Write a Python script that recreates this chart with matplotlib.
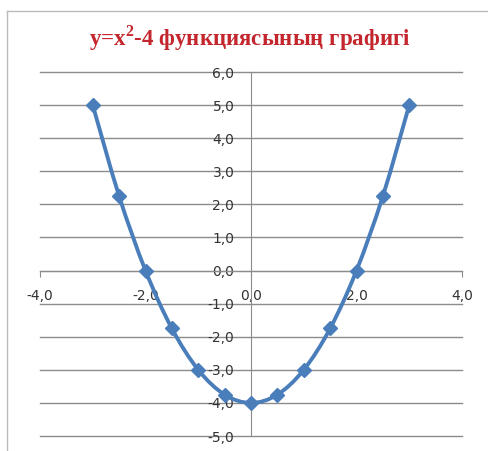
import numpy as np
from matplotlib import pyplot as plt
from matplotlib.path import Path
from matplotlib.patches import PathPatch
from matplotlib.ticker import FuncFormatter
from matplotlib.lines import Line2D

## Data ##
x_vals = [-3, -2.5, -2, -1.5, -1, -0.5, 0, 0.5, 1, 1.5, 2, 2.5, 3]
y_vals = [5, 2.25, 0, -1.75, -3, -3.75, -4, -3.75, -3, -1.75, 0, 2.25, 5]
x_ticks = [-4, -2, 0, 2, 4]
y_ticks = list(range(-5, 7))
title = "y=x$^{\\mathrm{2}}$-4 функциясының графигі"

line_color = '#4A7EBB'
grid_color = '#8C8C8C'

plt.rcParams['mathtext.fontset'] = 'custom'
plt.rcParams['mathtext.rm'] = 'Liberation Serif:bold'

fig = plt.figure(figsize=(4.89, 4.51), dpi=100)
ax = fig.add_axes([40 / 489, 1 - 436 / 451, 422 / 489, 364 / 451])
ax.set_xlim(-4, 4)
ax.set_ylim(-5, 6)

# axes crossing at zero, like the spreadsheet chart
for side in ['top', 'right']:
    ax.spines[side].set_visible(False)
ax.spines['left'].set_position(('data', 0))
ax.spines['bottom'].set_position(('data', 0))
ax.spines['left'].set_color(grid_color)
ax.spines['bottom'].set_color(grid_color)

ax.set_xticks(x_ticks)
ax.set_yticks(y_ticks)
fmt = FuncFormatter(lambda v, p: f"{v:.1f}".replace('.', ','))
ax.xaxis.set_major_formatter(fmt)
ax.yaxis.set_major_formatter(fmt)
ax.tick_params(axis='x', direction='out', length=4, color=grid_color, pad=9,
               labelsize=10, labelcolor='#333333')
ax.tick_params(axis='y', length=0, pad=12, labelsize=10, labelcolor='#333333')
ax.yaxis.grid(True, color=grid_color, linewidth=1)
for gl in ax.get_ygridlines():
    gl.set_clip_on(False)
ax.set_axisbelow(True)

## Smooth line (bezier through the points) ##
P = np.column_stack([x_vals, y_vals])
Pe = np.vstack([P[0], P, P[-1]])
verts = [P[0]]
codes = [Path.MOVETO]
for i in range(len(P) - 1):
    c1 = Pe[i + 1] + (Pe[i + 2] - Pe[i]) / 6
    c2 = Pe[i + 2] - (Pe[i + 3] - Pe[i + 1]) / 6
    verts += [c1, c2, Pe[i + 2]]
    codes += [Path.CURVE4] * 3
ax.add_patch(PathPatch(Path(verts, codes), fill=False, edgecolor=line_color,
                       linewidth=2.8, zorder=3, capstyle='round'))
ax.plot(x_vals, y_vals, linestyle='none', marker='D', markersize=7.5,
        color=line_color, zorder=4)

## Title and chart frame ##
fig.text(250 / 489, 1 - 38 / 451, title, ha='center', va='center',
         fontsize=16.5, fontweight='bold', family='Liberation Serif',
         color='#C3262D')
fig.add_artist(Line2D([7 / 489, 7 / 489], [0, 1 - 11 / 451],
                      transform=fig.transFigure, color='#BBBBBB', linewidth=1))
fig.add_artist(Line2D([7 / 489, 1], [1 - 11 / 451, 1 - 11 / 451],
                      transform=fig.transFigure, color='#BBBBBB', linewidth=1))

fig.savefig('out.png', dpi=100)
